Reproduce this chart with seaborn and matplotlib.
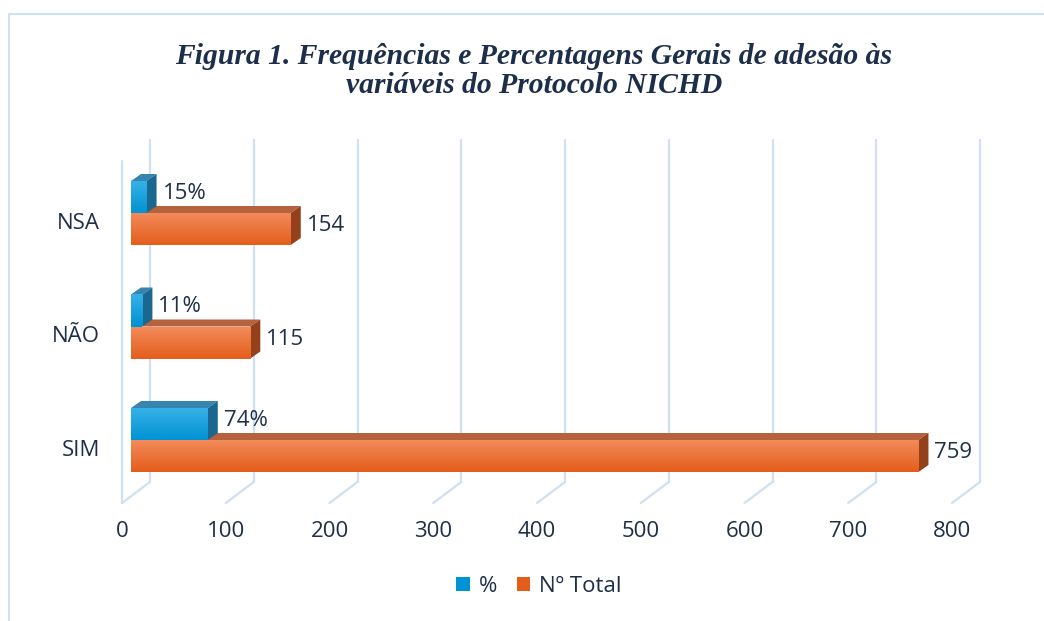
import numpy as np
import pandas as pd
import seaborn as sns
import matplotlib.pyplot as plt
from matplotlib.patches import Polygon, Patch
from matplotlib.lines import Line2D
from matplotlib.colors import LinearSegmentedColormap

# dados
categorias = ["NSA", "NÃO", "SIM"]
series = ["%", "Nº Total"]
percentagem = [15, 11, 74]
total = [154, 115, 759]
rotulos_pct = ["15%", "11%", "74%"]
rotulos_total = ["154", "115", "759"]
eixo_x = [0, 100, 200, 300, 400, 500, 600, 700, 800]

df = pd.DataFrame({
    "categoria": categorias * 2,
    "serie": [series[0]] * 3 + [series[1]] * 3,
    "valor": percentagem + total,
})

sns.set_style("white")
plt.rcParams['font.family'] = ['Open Sans', 'DejaVu Sans']
cor_texto = '#1e2f47'
cor_grelha = '#cfe0f2'
tam = 16

# cores das faces (frente em degradê, topo, lado)
faces = {
    "%": dict(frente=('#38b2e8', '#0093d3'), topo='#3784b0', lado='#1c6790'),
    "Nº Total": dict(frente=('#f38c5c', '#e45d1b'), topo='#b5633f', lado='#94401a'),
}

W, H = 1044, 621
fig = plt.figure(figsize=(W / 100, H / 100), dpi=100)
ax = fig.add_axes([100 / W, 1 - 503 / H, 910 / W, 363 / H])

sns.barplot(data=df, y="categoria", x="valor", hue="serie", order=categorias,
            hue_order=series, palette=[faces[s]["frente"][1] for s in series],
            width=0.564, orient="h", saturation=1, legend=False, ax=ax)

PX = 1.0375   # pixels por unidade em x
PY = 113.5    # pixels por categoria
xlim = (-22 / PX, 888 / PX)
ylim = (290 / PY, -73 / PY)

# paredes / grelha em perspetiva
y_chao_fundo = 269 / PY
for v in eixo_x:
    xb = v + 28 / PX
    ax.plot([xb, xb], [ylim[1], y_chao_fundo], color=cor_grelha, lw=1.6, zorder=0, clip_on=False)
    ax.plot([xb, v], [y_chao_fundo, ylim[0]], color=cor_grelha, lw=1.6, zorder=0, clip_on=False)
ax.plot([0, 0], [-52 / PY, ylim[0]], color=cor_grelha, lw=1.6, zorder=0, clip_on=False)

# barras 3D
dX, dY = 10 / PX, 7 / PY
n = len(categorias)
for i, patch in enumerate(ax.patches[:2 * n]):
    serie = series[i // n]
    k = i % n
    f = faces[serie]
    z = 3 if serie == "Nº Total" else 5
    patch.set_x(patch.get_x() + 9 / PX)
    patch.set_edgecolor('none')
    patch.set_zorder(z)
    xl, w = patch.get_x(), patch.get_width()
    xr = xl + w
    yt, yb = patch.get_y(), patch.get_y() + patch.get_height()
    topo = Polygon([(xl, yt), (xr, yt), (xr + dX, yt - dY), (xl + dX, yt - dY)],
                   closed=True, facecolor=f["topo"], edgecolor='none', zorder=z)
    lado = Polygon([(xr, yt), (xr, yb), (xr + dX, yb - dY), (xr + dX, yt - dY)],
                   closed=True, facecolor=f["lado"], edgecolor='none', zorder=z)
    ax.add_patch(topo)
    ax.add_patch(lado)
    cmap = LinearSegmentedColormap.from_list("g", list(f["frente"]))
    grad = np.linspace(0, 1, 64).reshape(-1, 1)
    im = ax.imshow(grad, cmap=cmap, extent=(xl, xr, yb, yt), aspect='auto',
                   origin='upper', zorder=z + 0.1, interpolation='bilinear')
    im.set_clip_path(patch)
    rotulo = rotulos_pct[k] if serie == "%" else rotulos_total[k]
    ax.text(xr + dX + 6 / PX, (yt - dY + yb) / 2, rotulo, ha='left', va='center',
            fontsize=tam, color=cor_texto, zorder=6)

ax.set_xlim(*xlim)
ax.set_ylim(*ylim)
ax.set_xticks(eixo_x, [str(v) for v in eixo_x])
ax.set_yticks([i + 8 / PY for i in range(n)], categorias)
ax.tick_params(axis='x', length=0, pad=13, labelsize=tam, labelcolor=cor_texto)
ax.tick_params(axis='y', length=0, pad=0, labelsize=tam, labelcolor=cor_texto)
ax.set_xlabel("")
ax.set_ylabel("")
for s in ax.spines.values():
    s.set_visible(False)

# moldura
fig.add_artist(Line2D([9 / W, 9 / W, 1], [0, 1 - 13.5 / H, 1 - 13.5 / H],
                      color=cor_grelha, lw=1.5, transform=fig.transFigure))

fig.text(534 / W, 1 - 71 / H,
         "Figura 1. Frequências e Percentagens Gerais de adesão às\nvariáveis do Protocolo NICHD",
         ha='center', va='center', family='Liberation Serif', style='italic',
         weight='bold', fontsize=21.3, color='#1c2e4a', linespacing=1.14)

handles = [Patch(facecolor=faces[s]["frente"][1], edgecolor='none') for s in series]
fig.legend(handles, series, loc='center', bbox_to_anchor=(539 / W, 1 - 586 / H), ncol=2,
           frameon=False, fontsize=tam, handlelength=0.6, handleheight=0.6,
           handletextpad=0.4, columnspacing=0.9, labelcolor=cor_texto)

plt.savefig("out.png", dpi=100)
plt.close()
